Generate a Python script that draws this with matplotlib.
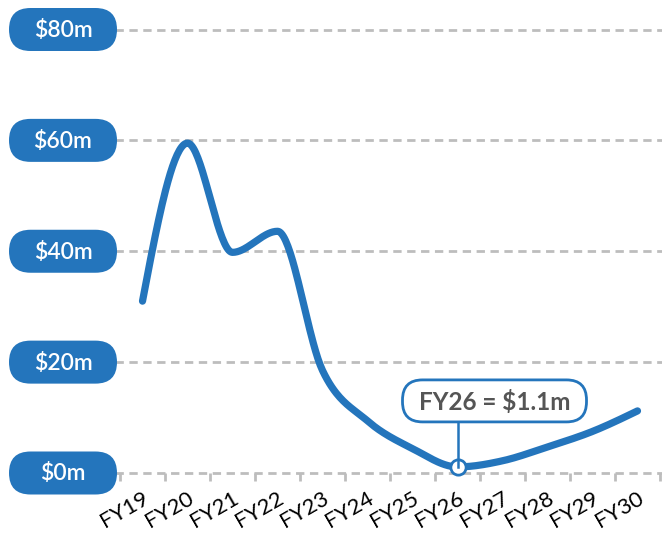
import numpy as np
import matplotlib
matplotlib.use('Agg')
import matplotlib.pyplot as plt
from matplotlib.patches import FancyBboxPatch

# values ($m)
years = ['FY19', 'FY20', 'FY21', 'FY22', 'FY23', 'FY24', 'FY25',
         'FY26', 'FY27', 'FY28', 'FY29', 'FY30']
values = [31, 59.5, 39.8, 43.6, 18.5, 9.4, 4.4, 1.1, 2.2, 4.7, 7.5, 11.2]
y_ticks = [0, 20, 40, 60, 80]
y_labels = ['$0m', '$20m', '$40m', '$60m', '$80m']
callout_year = 'FY26'
callout_text = 'FY26 = $1.1m'

blue = '#2475bc'
grey = '#bdbdbd'


def monotone(xs, ys, n=40):
    # monotone cubic (Steffen, like d3.curveMonotoneX)
    xs = np.asarray(xs, float)
    ys = np.asarray(ys, float)
    h = np.diff(xs)
    s = np.diff(ys) / h
    m = np.zeros(len(xs))
    for i in range(1, len(xs) - 1):
        p = (s[i - 1] * h[i] + s[i] * h[i - 1]) / (h[i - 1] + h[i])
        m[i] = (np.sign(s[i - 1]) + np.sign(s[i])) * min(abs(s[i - 1]), abs(s[i]), 0.5 * abs(p))
    m[0] = (3 * s[0] - m[1]) / 2
    m[-1] = (3 * s[-1] - m[-2]) / 2
    px, py = [], []
    for i in range(len(xs) - 1):
        t = np.linspace(0, 1, n)
        h00 = 2 * t**3 - 3 * t**2 + 1
        h10 = t**3 - 2 * t**2 + t
        h01 = -2 * t**3 + 3 * t**2
        h11 = t**3 - t**2
        px.extend(xs[i] + t * h[i])
        py.extend(h00 * ys[i] + h10 * h[i] * m[i] + h01 * ys[i + 1] + h11 * h[i] * m[i + 1])
    return np.array(px), np.array(py)


plt.rcParams['font.family'] = ['Lato', 'DejaVu Sans']

fig = plt.figure(figsize=(6.62, 5.37), dpi=100)
ax = fig.add_axes([120 / 662, 64 / 537, 540 / 662, 443.5 / 537])

x = np.arange(len(years))
ax.set_xlim(-0.5, len(years) - 0.5)
ax.set_ylim(0, 80)

for v in y_ticks:
    ax.axhline(v, color=grey, lw=2, ls=(0, (3, 2)), zorder=1, clip_on=False,
               xmin=-0.01, xmax=1.01)

cx, cy = monotone(x, values)
ax.plot(cx, cy, color=blue, lw=5.2, solid_capstyle='round', zorder=3, clip_on=False)

# tick marks at band edges, labels at band centers
ax.set_xticks(np.arange(-0.5, len(years), 1.0))
ax.set_xticklabels([])
ax.set_xticks(x, minor=True)
ax.set_xticklabels(years, minor=True, rotation=30, ha='right', va='top',
                   rotation_mode='anchor', fontsize=16, fontweight='normal',
                   color='#000000')
ax.tick_params(axis='x', which='major', length=6, width=2, color=grey, direction='out')
ax.tick_params(axis='x', which='minor', length=0, pad=11)
ax.set_yticks([])
for sp in ax.spines.values():
    sp.set_visible(False)

# pixel overlay for pill labels and callout
ov = fig.add_axes([0, 0, 1, 1], zorder=5)
ov.set_xlim(0, 662)
ov.set_ylim(0, 537)
ov.axis('off')
ov.patch.set_alpha(0)

fig.canvas.draw()
for v, lab in zip(y_ticks, y_labels):
    _, yp = ax.transData.transform((0, v))
    ov.add_patch(FancyBboxPatch((9, yp - 21.5), 108, 43,
                                boxstyle='round,pad=0,rounding_size=21.5',
                                fc=blue, ec='none'))
    ov.text(63, yp - 1, lab, color='white', fontsize=16.5, fontweight='semibold',
            ha='center', va='center')

i = years.index(callout_year)
xp, yp = ax.transData.transform((i, values[i]))
bx, by = xp + 37, yp + 66
ov.plot([xp, xp], [yp, by - 21], color=blue, lw=1.8, zorder=4)
ov.add_patch(FancyBboxPatch((bx - 92, by - 21), 184, 42,
                            boxstyle='round,pad=0,rounding_size=20',
                            fc='white', ec=blue, lw=2, zorder=4))
ov.text(bx, by - 1, callout_text, color='#555555', fontsize=17.5, fontweight='bold',
        ha='center', va='center', zorder=5)
ax.plot([i], [values[i]], 'o', ms=11, mfc='white', mec=blue, mew=2, zorder=6, clip_on=False)

fig.savefig('out.png', dpi=100)
